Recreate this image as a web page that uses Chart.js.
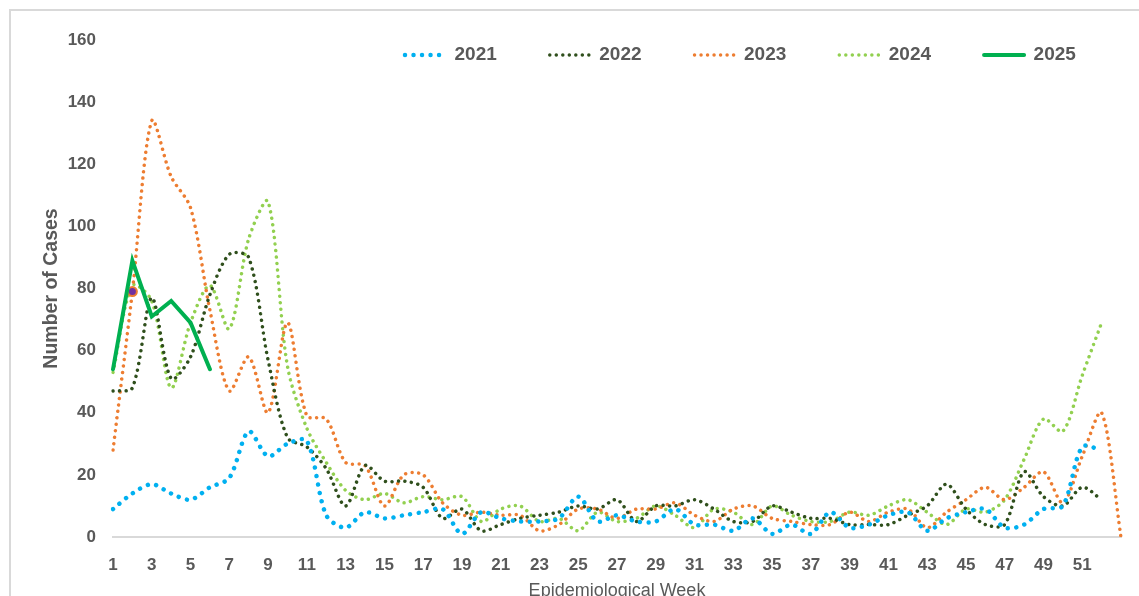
<!DOCTYPE html>
<html>
<head>
<meta charset="utf-8">
<title>Epidemiological Week</title>
<script src="https://cdn.jsdelivr.net/npm/chart.js@4.4.1/dist/chart.umd.min.js"></script>
<style>
  html, body { margin: 0; padding: 0; background: #fff; overflow: hidden; }
  #wrap { position: relative; width: 1139px; height: 596px; overflow: hidden; }
  #frame { position: absolute; left: 9px; top: 9px; width: 1200px; height: 700px; border: 2px solid #d9d9d9; }
  #cases { position: absolute; left: 0; top: 0; }
</style>
</head>
<body>
<div id="wrap">
  <div id="frame"></div>
  <canvas id="cases" width="1139" height="596"></canvas>
</div>
<script>
// week labels (53 weeks, only odd ones up to 51 are shown)
const weeks = ['1','2','3','4','5','6','7','8','9','10','11','12','13','14','15','16','17','18','19','20',
  '21','22','23','24','25','26','27','28','29','30','31','32','33','34','35','36','37','38','39','40',
  '41','42','43','44','45','46','47','48','49','50','51','52','53'];

const yTicks = [0, 20, 40, 60, 80, 100, 120, 140, 160];

// cases per week
const cases2021 = [9, 14, 17, 14, 12, 16, 19, 34, 26, 30, 31, 7, 3, 8, 6, 7, 8, 9, 1, 8,
  6, 5, 5, 6, 13, 5, 7, 5, 5, 9, 4, 4, 2, 6, 1, 4, 1, 8, 3, 4,
  7, 8, 2, 6, 8, 9, 3, 4, 9, 10, 29, 28, null];
const cases2022 = [47, 48, 77, 51, 58, 78, 91, 90, 57, 32, 29, 22, 10, 23, 18, 18, 16, 6, 9, 2,
  4, 6, 7, 8, 10, 9, 12, 5, 10, 10, 12, 9, 5, 5, 10, 8, 6, 6, 4, 4,
  4, 7, 10, 17, 9, 4, 4, 21, 13, 10, 16, 12, null];
const cases2023 = [28, 79, 134, 116, 106, 73, 47, 58, 40, 69, 39, 38, 24, 23, 10, 20, 20, 11, 7, 8,
  7, 7, 2, 4, 9, 9, 6, 9, 9, 11, 7, 5, 9, 10, 6, 5, 4, 4, 8, 5,
  8, 9, 3, 8, 12, 16, 12, 16, 21, 11, 26, 40, 0];
const cases2024 = [53, 81, 76, 48, 69, 81, 67, 96, 108, 55, 35, 24, 15, 12, 14, 11, 13, 12, 13, 5,
  9, 10, 5, 6, 2, 8, 5, 6, 10, 7, 3, 9, 8, 4, 10, 7, 5, 5, 8, 7,
  10, 12, 8, 4, 9, 8, 12, 25, 38, 34, 52, 69, null];
const cases2025 = [54, 89, 71, 76, 69, 54];

const textGrey = '#595959';
const sans = "'Liberation Sans', Arial, sans-serif";

function dotted(label, data, color, width, gap) {
  return {
    label: label,
    data: data,
    borderColor: color,
    backgroundColor: color,
    borderWidth: width,
    borderDash: [0.01, gap],
    borderCapStyle: 'round',
    tension: 0.3,
    pointRadius: 0,
    pointHoverRadius: 0,
    fill: false,
    order: 1
  };
}

const ds2023 = dotted('2023', cases2023, '#ED7D31', 3.5, 6.5);
// single highlighted marker at week 2
ds2023.pointRadius = (c) => c.dataIndex === 1 ? 4.5 : 0;
ds2023.pointBackgroundColor = '#7030A0';
ds2023.pointBorderColor = '#ED7D31';
ds2023.pointBorderWidth = 2;

const chartData = {
  labels: weeks,
  datasets: [
    dotted('2021', cases2021, '#00B0F0', 4.5, 8.5),
    dotted('2022', cases2022, '#2F4F1C', 3.5, 6.5),
    ds2023,
    dotted('2024', cases2024, '#92D050', 3.5, 6.5),
    {
      label: '2025',
      data: cases2025,
      borderColor: '#00B050',
      backgroundColor: '#00B050',
      borderWidth: 4,
      borderCapStyle: 'round',
      tension: 0,
      pointRadius: 0,
      fill: false,
      order: 0
    }
  ]
};

// legend is drawn inside the plot, in one row, up and to the right
const legendPad = 53;
const legendShift = {
  id: 'legendShift',
  afterInit(chart) {
    chart.legend.isHorizontal = () => true;
  },
  afterLayout(chart) {
    const lg = chart.legend;
    lg.left = 405 - legendPad;
    lg.right = lg.left + chart.chartArea.width;
    lg.top = 55 - 9.5 - legendPad;
    lg.bottom = lg.top + lg.height;
  }
};

// legend samples use the dataset line style (dots), not the point style
function legendLabels(chart) {
  const items = Chart.defaults.plugins.legend.labels.generateLabels(chart);
  items.forEach(item => {
    const ds = chart.data.datasets[item.datasetIndex];
    item.pointStyle = 'line';
    item.lineDash = ds.borderDash || [];
    item.lineCap = ds.borderCapStyle || 'butt';
    item.lineWidth = ds.borderWidth;
    item.strokeStyle = ds.borderColor;
  });
  return items.sort((a, b) => a.datasetIndex - b.datasetIndex);
}

const ctx = document.querySelector('#cases');

const casesChart = new Chart(ctx, {
  type: 'line',
  data: chartData,
  plugins: [legendShift],
  options: {
    responsive: false,
    animation: false,
    devicePixelRatio: 1,
    layout: { padding: { left: 36, right: 15, top: 40, bottom: 0 } },
    plugins: {
      tooltip: { enabled: false },
      legend: {
        position: 'chartArea',
        align: 'start',
        labels: {
          usePointStyle: true,
          pointStyleWidth: 40,
          padding: legendPad,
          color: textGrey,
          font: { family: sans, size: 19, weight: 'bold' },
          generateLabels: legendLabels
        }
      }
    },
    scales: {
      x: {
        grid: { display: false, drawTicks: false },
        border: { display: true, color: '#d9d9d9', width: 2 },
        ticks: {
          autoSkip: false,
          maxRotation: 0,
          padding: 18,
          color: textGrey,
          font: { family: sans, size: 17, weight: 'bold' },
          callback: (v, i) => (i % 2 === 0 && i < 51) ? weeks[i] : ''
        },
        title: {
          display: true,
          text: 'Epidemiological Week',
          color: textGrey,
          font: { family: sans, size: 18 },
          padding: { top: 0, bottom: -6 }
        },
        afterFit: (s) => { s.height = 59; }
      },
      y: {
        min: 0,
        max: 160,
        grid: { display: false, drawTicks: false },
        border: { display: false },
        afterBuildTicks: (s) => { s.ticks = yTicks.map(v => ({ value: v })); },
        ticks: {
          padding: 17,
          color: textGrey,
          font: { family: sans, size: 17, weight: 'bold' }
        },
        title: {
          display: true,
          text: 'Number of Cases',
          color: textGrey,
          font: { family: sans, size: 19.5, weight: 'bold' },
          padding: { top: 4, bottom: 4 }
        },
        afterFit: (s) => { s.width = 77; }
      }
    }
  }
});
</script>
</body>
</html>
